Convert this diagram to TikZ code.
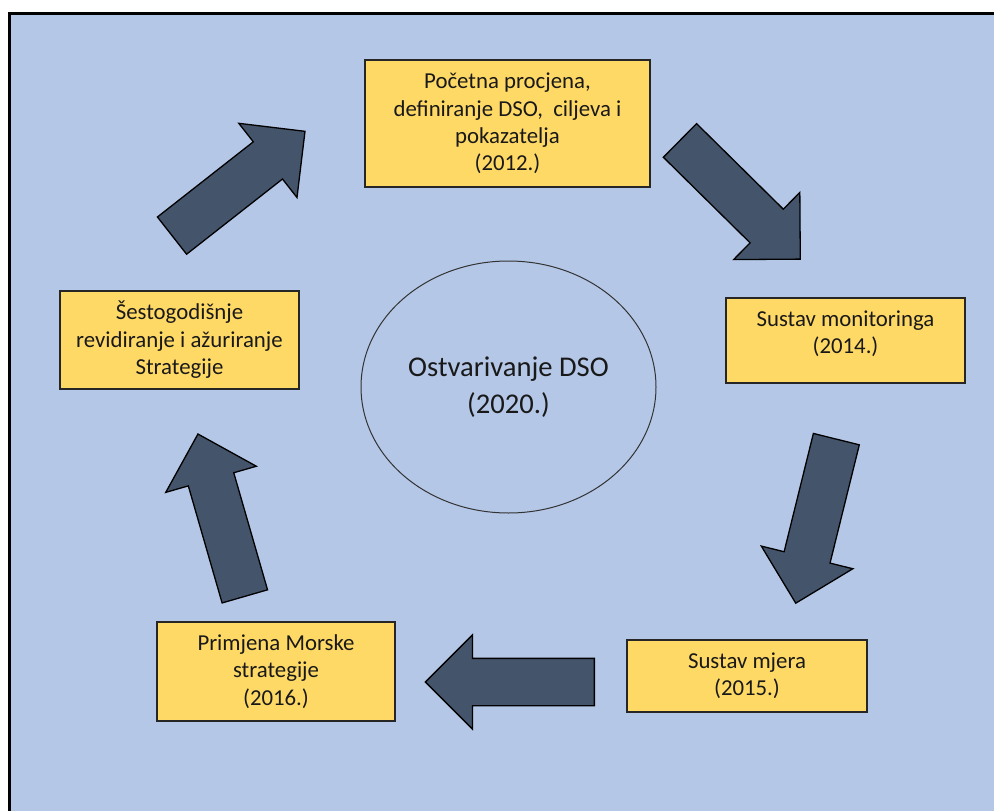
\documentclass[tikz,border=0pt]{standalone}
\usepackage{fontspec}
\setmainfont{Carlito}
\usetikzlibrary{shapes.geometric,shapes.arrows}
\definecolor{pozadina}{HTML}{B4C7E7}
\definecolor{zuta}{HTML}{FFD966}
\definecolor{strelica}{HTML}{44546A}

\begin{document}
\begin{tikzpicture}[x=1pt,y=-1pt,
  korak/.style={draw=black!85, line width=1.2pt, fill=zuta, align=center, inner sep=0pt, text=black!90, font=\fontsize{22.8}{27.4}\selectfont},
  blok/.style={single arrow, draw=black, line width=1.3pt, fill=strelica, minimum height=169pt, minimum width=93pt, single arrow head extend=23.5pt, single arrow tip angle=90, inner xsep=0pt, inner ysep=23pt, anchor=tail}]
\useasboundingbox (0,0) rectangle (994,811);
\fill[pozadina] (8,12) rectangle (994,811);
\draw[line width=3pt] (9.5,811) -- (9.5,13.5) -- (994,13.5);
\node[ellipse, draw=black!80, line width=1pt, minimum width=295pt, minimum height=252pt, inner sep=0pt, align=center, text=black!90, font=\fontsize{28.6}{37}\selectfont] (dso) at (508.5,387) {Ostvarivanje DSO\\(2020.)};
\node[korak, minimum width=285pt, minimum height=127pt] (pocetna) at (507.5,123.5) {Početna procjena,\\definiranje DSO,\ \ ciljeva i\\pokazatelja\\(2012.)};
\node[korak, minimum width=239pt, minimum height=85pt, text depth=17pt] (monitoring) at (845.5,340.5) {Sustav monitoringa\\(2014.)};
\node[korak, minimum width=240pt, minimum height=72pt] (mjere) at (747,676) {Sustav mjera\\(2015.)};
\node[korak, minimum width=238pt, minimum height=99pt] (primjena) at (276,671.5) {Primjena Morske\\strategije\\(2016.)};
\node[korak, minimum width=239pt, minimum height=98pt] (revizija) at (179.5,340) {Šestogodišnje\\revidiranje i ažuriranje\\Strategije};
\node[blok, rotate=38.1] (s1) at (171.5,236) {};
\node[blok, rotate=-44.6] (s2) at (679.5,140) {};
\node[blok, rotate=-103.9] (s3) at (836.5,438.5) {};
\node[blok, rotate=180] (s4) at (595,682) {};
\node[blok, rotate=106.1] (s5) at (245,597) {};
\end{tikzpicture}
\end{document}
